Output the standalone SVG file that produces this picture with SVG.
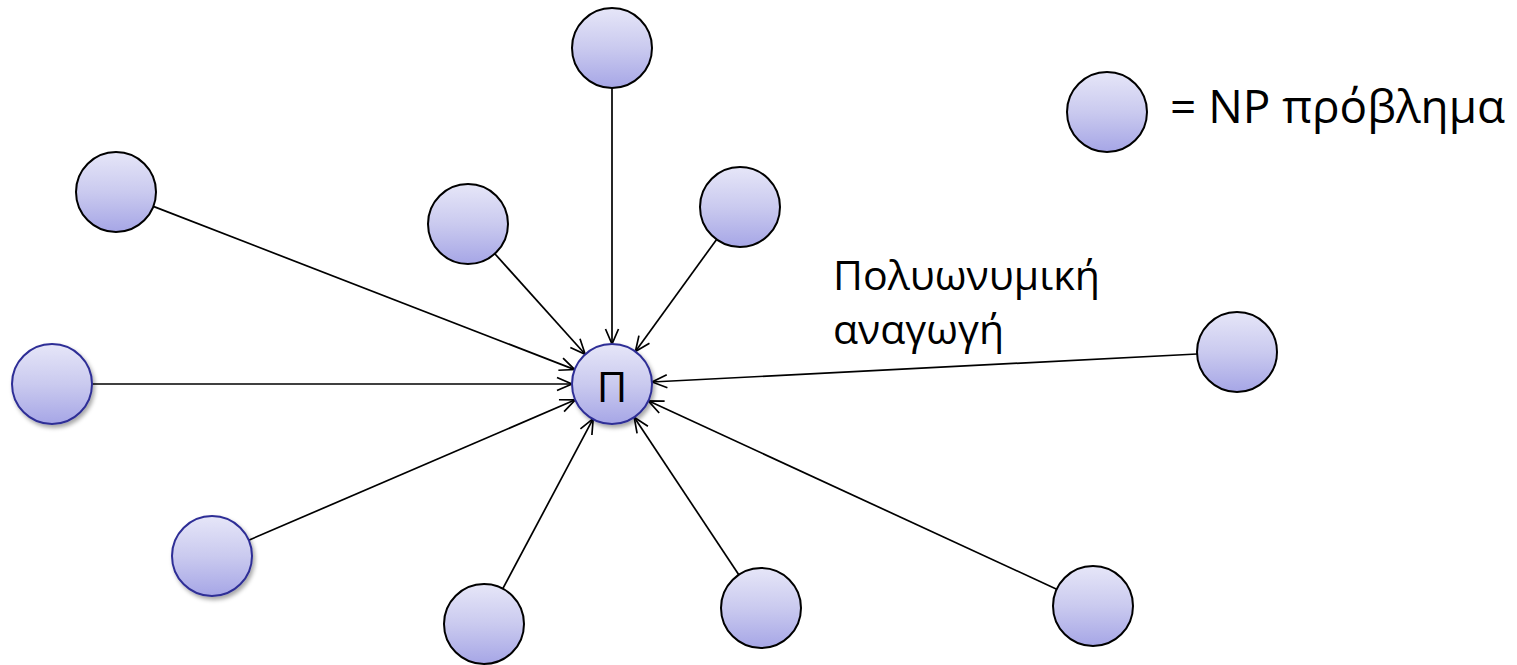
<svg xmlns="http://www.w3.org/2000/svg" width="1517" height="665" viewBox="0 0 1517 665">
  <defs>
    <linearGradient id="fill" x1="0" y1="0" x2="0" y2="1">
      <stop offset="0" stop-color="#E6E6F8"/>
      <stop offset="0.5" stop-color="#CACAEF"/>
      <stop offset="1" stop-color="#A6A6E6"/>
    </linearGradient>
    <filter id="shadow" x="-30%" y="-30%" width="160%" height="160%">
      <feDropShadow dx="2" dy="3" stdDeviation="2" flood-color="#000" flood-opacity="0.35"/>
    </filter>
    <marker id="arrow" markerUnits="userSpaceOnUse" markerWidth="20" markerHeight="20" viewBox="-16 -10 20 20" refX="0" refY="0" orient="auto">
      <path d="M-15,-6.5 L0,0 L-15,6.5" fill="none" stroke="#000" stroke-width="1.7"/>
    </marker>
  </defs>
  <style>
    .node { fill: url(#fill); stroke: #000; stroke-width: 2; }
    .node.blue { stroke: #2E2E96; filter: url(#shadow); }
    .edge { stroke: #000; stroke-width: 1.7; fill: none; marker-end: url(#arrow); }
    .label { font-family: "Open Sans", "Noto Sans", sans-serif; fill: #000; }
  </style>

  <!-- reductions into the central problem -->
  <g id="connectors">
    <line class="edge" x1="612" y1="88" x2="612" y2="344"/>
    <line class="edge" x1="153.3" y1="206.4" x2="574.7" y2="369.6"/>
    <line class="edge" x1="92" y1="384" x2="572" y2="384"/>
    <line class="edge" x1="248.7" y1="540.2" x2="575.3" y2="399.8"/>
    <line class="edge" x1="502.8" y1="588.7" x2="593.2" y2="418.7"/>
    <line class="edge" x1="738.8" y1="574.7" x2="634.2" y2="417.3"/>
    <line class="edge" x1="1056.7" y1="589.2" x2="648.3" y2="400.8"/>
    <line class="edge" x1="1197.1" y1="354.0" x2="652.1" y2="382.0"/>
    <line class="edge" x1="494.8" y1="253.7" x2="585.2" y2="354.3"/>
    <line class="edge" x1="716.6" y1="239.4" x2="635.4" y2="351.6"/>
  </g>

  <g id="n-top"><circle class="node" cx="612" cy="48" r="40"/></g>
  <g id="n-upper-left"><circle class="node" cx="116" cy="192" r="40"/></g>
  <g id="n-left"><circle class="node blue" cx="52" cy="384" r="40"/></g>
  <g id="n-lower-left"><circle class="node blue" cx="212" cy="556" r="40"/></g>
  <g id="n-bottom-left"><circle class="node" cx="484" cy="624" r="40"/></g>
  <g id="n-bottom-mid"><circle class="node" cx="761" cy="608" r="40"/></g>
  <g id="n-bottom-right"><circle class="node" cx="1093" cy="606" r="40"/></g>
  <g id="n-right"><circle class="node" cx="1237" cy="352" r="40"/></g>
  <g id="n-inner-left"><circle class="node" cx="468" cy="224" r="40"/></g>
  <g id="n-inner-right"><circle class="node" cx="740" cy="207" r="40"/></g>

  <g id="n-center">
    <circle class="node blue" cx="612" cy="384" r="40"/>
    <text class="label" x="612" y="402" font-size="42" text-anchor="middle">Π</text>
  </g>

  <g id="reduction-label">
    <text class="label" x="833" y="290" font-size="41" textLength="267" lengthAdjust="spacingAndGlyphs">Πολυωνυμική</text>
    <text class="label" x="833" y="344" font-size="41">αναγωγή</text>
  </g>

  <g id="legend">
    <circle class="node" cx="1107" cy="112" r="40"/>
    <text class="label" x="1170" y="123" font-size="45" textLength="335" lengthAdjust="spacingAndGlyphs">= NP πρόβλημα</text>
  </g>
</svg>
